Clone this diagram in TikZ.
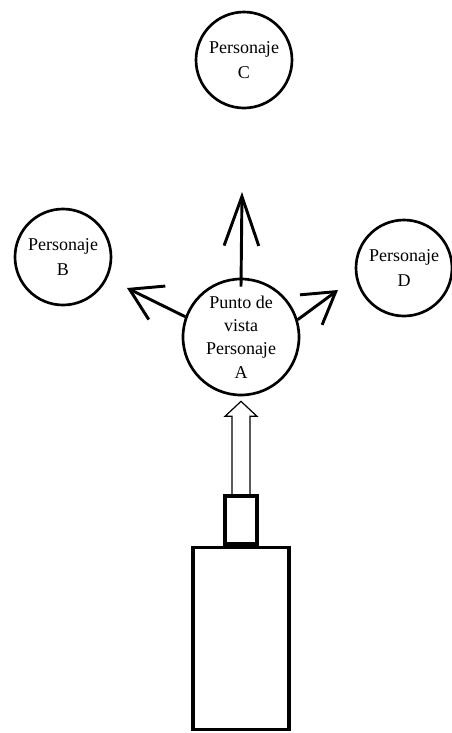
\documentclass[tikz,border=0pt]{standalone}
\usepackage{fontspec}
\setmainfont{Liberation Serif}
\usepackage{tikz}
\usetikzlibrary{arrows.meta, positioning, calc}
\tikzset{
  pers/.style={
    circle, draw, line width=2pt, inner sep=0pt,
    minimum size=72pt, align=center,
    font=\fontsize{13.5}{18.5}\selectfont
  },
  pta/.style={pers, minimum size=87pt, font=\fontsize{13.5}{17.5}\selectfont},
  caja/.style={rectangle, draw, line width=2.6pt, inner sep=0pt},
  lente/.style={caja, minimum width=24pt, minimum height=36pt},
  cuerpo/.style={caja, minimum width=72pt, minimum height=136.5pt},
  arr/.style={line width=2.2pt, -{Straight Barb[length=23pt, width=28pt]}},
  arrv/.style={arr, -{Straight Barb[length=37pt, width=26pt]}},
  hueco/.style={line width=0.9pt, line join=miter}
}
\begin{document}
\begin{tikzpicture}[x=0.75pt, y=-0.75pt]
  \useasboundingbox (0,0) rectangle (452,733);

  %% ── personajes ──────────────────────────────────────────
  \node[pta]  (persA) at (241,337) {Punto de\\vista\\Personaje\\A};
  \node[pers] (persC) at (244,60)  {Personaje\\C};
  \node[pers] (persB) at (63,257)  {Personaje\\B};
  \node[pers] (persD) at (404,268) {Personaje\\D};

  %% ── miradas de A ────────────────────────────────────────
  \coordinate (haciaC) at (242,192);
  \coordinate (haciaB) at (127,288);
  \coordinate (haciaD) at (338,290);
  \draw[arrv] ($(persA.north)+(0,9)$) -- (haciaC);
  \draw[arr]  (persA.160)   -- (haciaB);
  \draw[arr]  (persA.17)    -- (haciaD);

  %% ── cámara ──────────────────────────────────────────────
  \node[lente] (lente) at (241,520) {};
  \node[cuerpo, below=0pt of lente] (camara) {};

  %% flecha hueca: cámara -> A
  \coordinate (punta) at ($(persA.south)+(0,5)$);
  \draw[hueco] ($(lente.north)+(-9,0)$) -- ($(punta)+(-9,15)$)
     -- ($(punta)+(-16,15)$) -- (punta) -- ($(punta)+(16,15)$)
     -- ($(punta)+(9,15)$) -- ($(lente.north)+(9,0)$);
\end{tikzpicture}
\end{document}
